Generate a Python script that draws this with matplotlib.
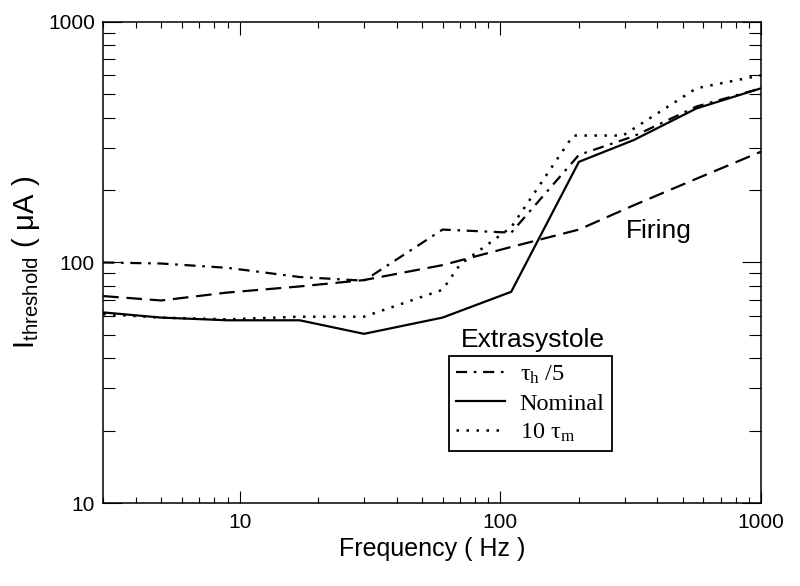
import numpy as np
import matplotlib
matplotlib.use("Agg")
import matplotlib.pyplot as plt
from matplotlib.ticker import LogLocator, FixedLocator, FixedFormatter, NullFormatter

plt.rcParams['font.family'] = ['Liberation Sans', 'DejaVu Sans']
plt.rcParams['mathtext.fontset'] = 'custom'
plt.rcParams['mathtext.rm'] = 'Liberation Serif'
plt.rcParams['mathtext.it'] = 'Liberation Serif'
plt.rcParams['mathtext.sf'] = 'Liberation Sans'

# data (Hz, uA)
freq = [3, 5, 9, 17, 30, 60, 110, 200, 325, 565, 1000]
tau_h5 = [100, 99, 95, 87, 84, 137, 133, 280, 335, 445, 530]
nominal = [62, 59, 57.5, 57.5, 50.5, 59, 75.5, 262, 323, 437, 530]
freq_tm = [3, 5, 9, 17, 30, 60, 70, 110, 190, 295, 565, 1000]
tau_m10 = [61, 59, 58, 59.5, 59.5, 77, 98, 140, 337, 337, 530, 600]
firing = [72.5, 69.5, 75, 79.5, 84.5, 97.5, 116, 137, 173, 223, 289]

legend_labels = [r'$\tau_{\rm h}$ /5', 'Nominal', r'10 $\tau_{\rm m}$']
tick_vals = [10, 100, 1000]
tick_labels = ['10', '100', '1000']

fig = plt.figure(figsize=(8, 5.86), dpi=100)
ax = fig.add_axes([0.129, 0.1416, 0.8225, 0.821])

lw = 1.6
l1, = ax.plot(freq, tau_h5, color='black', lw=lw, linestyle=(0, (5, 3, 1.2, 3)))
l2, = ax.plot(freq, nominal, color='black', lw=lw, linestyle='-')
l3, = ax.plot(freq_tm, tau_m10, color='black', lw=1.8, linestyle=(0, (1, 3)))
ax.plot(freq, firing, color='black', lw=lw, linestyle=(0, (7, 3.5)))

ax.set_xscale('log')
ax.set_yscale('log')
ax.set_xlim(3, 1000)
ax.set_ylim(10, 1000)

for axis in (ax.xaxis, ax.yaxis):
    axis.set_major_locator(FixedLocator(tick_vals))
    axis.set_major_formatter(FixedFormatter(tick_labels))
    axis.set_minor_locator(LogLocator(base=10, subs=np.arange(2, 10), numticks=20))
    axis.set_minor_formatter(NullFormatter())

ax.tick_params(which='both', direction='in', top=True, right=True, width=0.8, colors='black')
ax.tick_params(axis='x', which='major', length=9, pad=7, labelsize=15)
ax.tick_params(axis='x', which='minor', length=4.5)
ax.tick_params(axis='y', which='major', length=13.5, pad=6, labelsize=15)
ax.tick_params(axis='y', which='minor', length=8.5)
for sp in ax.spines.values():
    sp.set_linewidth(1.1)

ax.set_xlabel('Frequency ( Hz )', fontsize=18, labelpad=4)
ax.set_ylabel(r'$\mathsf{I_{threshold}}$ ( μA )', fontsize=21, labelpad=4)

ax.text(304, 126, 'Firing', fontsize=19, ha='left', va='baseline')
ax.text(70.6, 44.7, 'Extrasystole', fontsize=19, ha='left', va='baseline')

leg = ax.legend([l1, l2, l3], legend_labels, loc='upper left',
                bbox_to_anchor=(0.525, 0.3056), borderaxespad=0,
                prop={'family': 'Liberation Serif', 'size': 17.5},
                fancybox=False, framealpha=1, handlelength=2.0,
                handletextpad=0.6, borderpad=0.32, labelspacing=0.27)
leg.get_frame().set_edgecolor('black')
leg.get_frame().set_linewidth(1.3)

fig.savefig('out.png', dpi=100, facecolor='white')
